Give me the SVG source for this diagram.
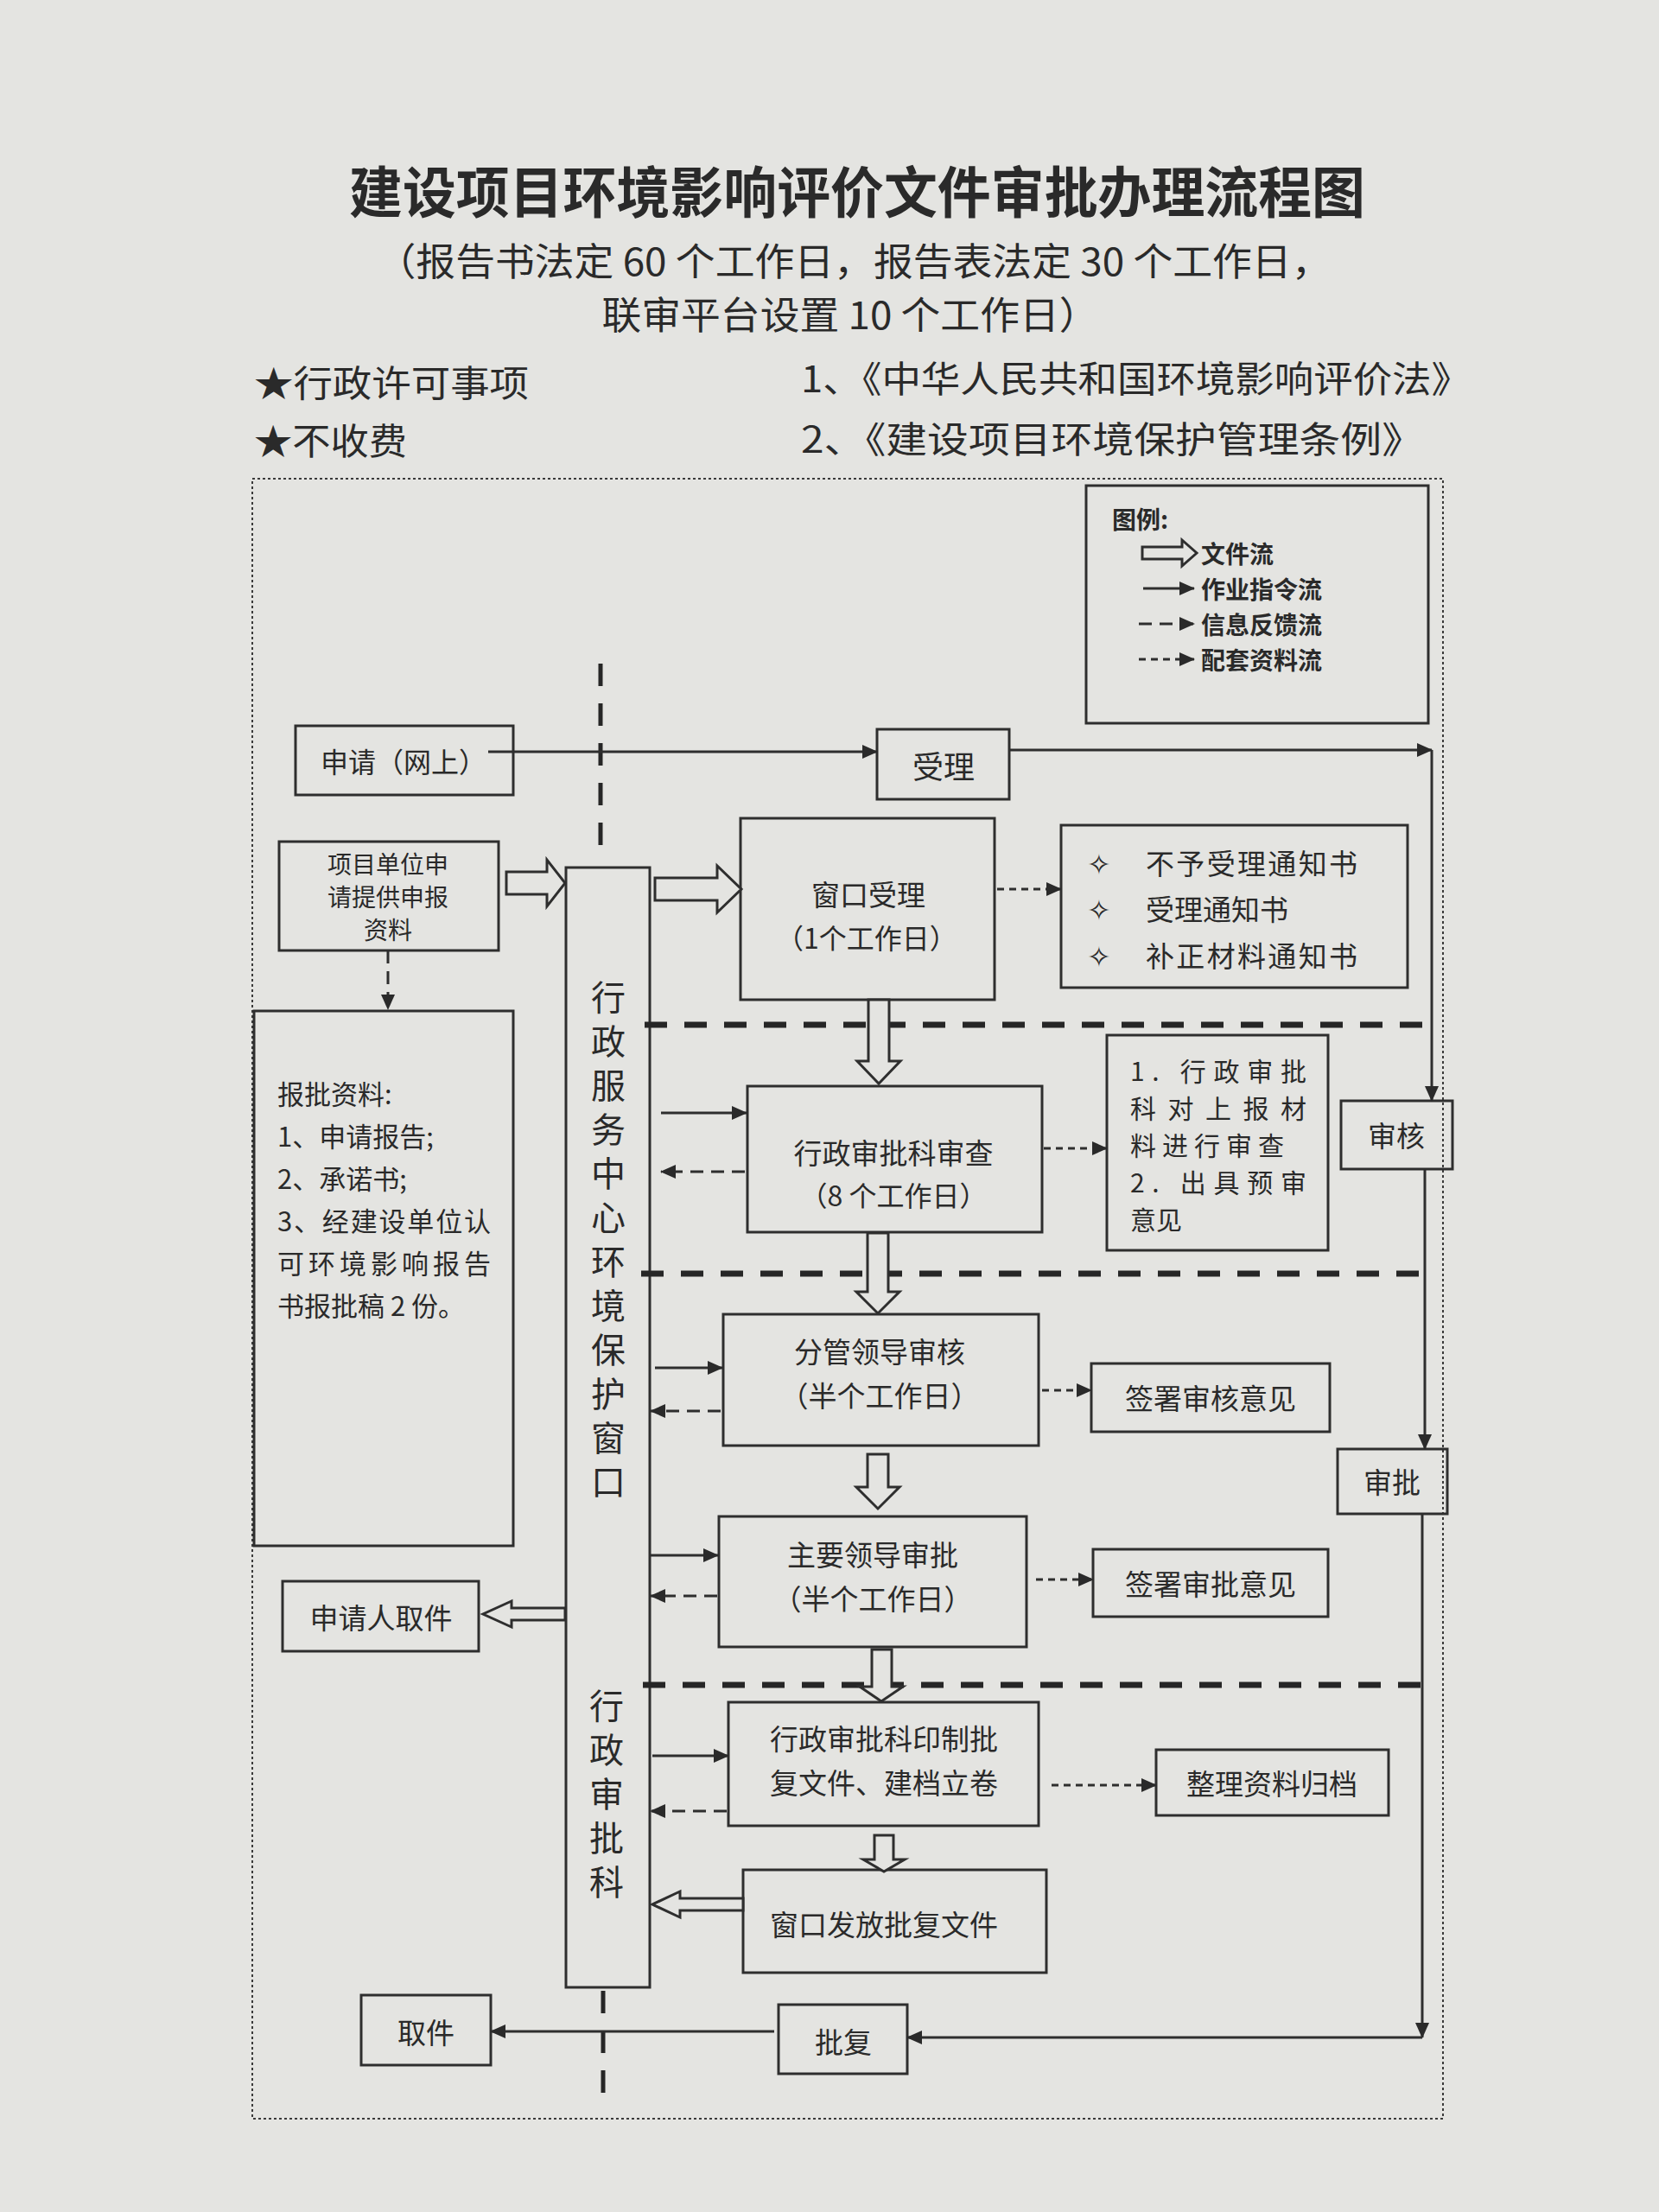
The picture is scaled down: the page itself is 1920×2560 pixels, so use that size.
<svg xmlns="http://www.w3.org/2000/svg" width="1920" height="2560" viewBox="0 0 1920 2560">
<style>
text{font-family:"Noto Sans CJK SC","Noto Sans",sans-serif;fill:#2a2a2a;dominant-baseline:central}
.t{font-size:33px}
.c{text-anchor:middle}
.vt{font-size:40px;writing-mode:vertical-rl;letter-spacing:11px}
.lg{font-size:28px;font-weight:700}
.box{fill:none;stroke:#2e2e2e;stroke-width:3}
.ln{fill:none;stroke:#2e2e2e;stroke-width:3}
.fb{fill:none;stroke:#2e2e2e;stroke-width:3;stroke-dasharray:15 9}
.dt{fill:none;stroke:#2e2e2e;stroke-width:3;stroke-dasharray:8 6}
.sep{fill:none;stroke:#262626;stroke-width:7;stroke-dasharray:26 20}
.vsep{fill:none;stroke:#262626;stroke-width:5;stroke-dasharray:26 20}
.ho{fill:#e4e4e1;stroke:#2e2e2e;stroke-width:3;stroke-linejoin:miter}
.bold{font-weight:700}
</style>
<defs>
<marker id="ah" viewBox="0 0 18 16" refX="17" refY="8" markerWidth="18" markerHeight="16" markerUnits="userSpaceOnUse" orient="auto">
<path d="M0,0 L18,8 L0,16 Z" fill="#2a2a2a"/>
</marker>
</defs>
<rect x="0" y="0" width="1920" height="2560" fill="#e4e4e1"/>

<g id="header">
<text class="c bold" x="992" y="218" font-size="64" textLength="1176" lengthAdjust="spacingAndGlyphs">建设项目环境影响评价文件审批办理流程图</text>
<text class="c" x="988" y="300" font-size="44" textLength="1105" lengthAdjust="spacingAndGlyphs">（报告书法定 60 个工作日，报告表法定 30 个工作日，</text>
<text class="c" x="984" y="362" font-size="44" textLength="575" lengthAdjust="spacingAndGlyphs">联审平台设置 10 个工作日）</text>
<text x="294" y="440" font-size="42" textLength="318" lengthAdjust="spacingAndGlyphs">★行政许可事项</text>
<text x="294" y="507" font-size="42" textLength="177" lengthAdjust="spacingAndGlyphs">★不收费</text>
<text x="927" y="435" font-size="42" textLength="775" lengthAdjust="spacingAndGlyphs">1、《中华人民共和国环境影响评价法》</text>
<text x="927" y="505" font-size="42" textLength="720" lengthAdjust="spacingAndGlyphs">2、《建设项目环境保护管理条例》</text>
</g>

<rect id="frame" x="292" y="554" width="1378" height="1898" fill="none" stroke="#3a3a3a" stroke-width="2" stroke-dasharray="3 3"/>

<g id="legend">
<rect class="box" x="1257" y="562" width="396" height="275"/>
<text class="lg" x="1287" y="600" font-size="30">图例:</text>
<polygon class="ho" points="1322,633 1368,633 1368,625 1385,640 1368,655 1368,647 1322,647"/>
<text class="lg" x="1390" y="640">文件流</text>
<line class="ln" x1="1323" y1="681" x2="1382" y2="681" marker-end="url(#ah)"/>
<text class="lg" x="1390" y="681">作业指令流</text>
<line class="fb" x1="1318" y1="722" x2="1382" y2="722" marker-end="url(#ah)"/>
<text class="lg" x="1390" y="722">信息反馈流</text>
<line class="dt" x1="1318" y1="763" x2="1382" y2="763" marker-end="url(#ah)"/>
<text class="lg" x="1390" y="763">配套资料流</text>
</g>

<g id="n-apply-online">
<rect class="box" x="342" y="840" width="252" height="80"/>
<text x="371" y="880" font-size="32">申请（网上）</text>
</g>
<g id="n-accept">
<rect class="box" x="1015" y="844" width="153" height="81"/>
<text class="c" x="1092" y="885" font-size="36">受理</text>
</g>
<g id="n-unit">
<rect class="box" x="323" y="974" width="254" height="126"/>
<text class="c" x="449" y="999" font-size="28">项目单位申</text>
<text class="c" x="449" y="1037" font-size="28">请提供申报</text>
<text class="c" x="449" y="1075" font-size="28">资料</text>
</g>
<g id="n-column">
<rect class="box" x="655" y="1004" width="97" height="1296"/>
<text class="vt" x="704" y="1134">行政服务中心环境保护窗口</text>
<text class="vt" x="702" y="1954">行政审批科</text>
</g>
<g id="n-window-accept">
<rect class="box" x="857" y="947" width="294" height="210"/>
<text class="t c" x="1005" y="1034">窗口受理</text>
<text class="c" x="1003" y="1084" font-size="32">（1个工作日）</text>
</g>
<g id="n-notices">
<rect class="box" x="1228" y="955" width="401" height="188"/>
<text class="t" x="1258" y="998">✧</text>
<text class="t" x="1326" y="998" textLength="245" lengthAdjust="spacing">不予受理通知书</text>
<text class="t" x="1258" y="1051">✧</text>
<text class="t" x="1326" y="1051">受理通知书</text>
<text class="t" x="1258" y="1105">✧</text>
<text class="t" x="1326" y="1105" textLength="245" lengthAdjust="spacing">补正材料通知书</text>
</g>
<g id="n-materials">
<rect class="box" x="294" y="1170" width="300" height="619"/>
<text x="321" y="1264" font-size="31">报批资料:</text>
<text x="321" y="1313" font-size="31">1、申请报告;</text>
<text x="321" y="1362" font-size="31">2、承诺书;</text>
<text x="321" y="1411" font-size="31" textLength="247" lengthAdjust="spacing">3、经建设单位认</text>
<text x="321" y="1460" font-size="31" textLength="247" lengthAdjust="spacing">可环境影响报告</text>
<text x="321" y="1509" font-size="31">书报批稿 2 份。</text>
</g>
<g id="n-review">
<rect class="box" x="865" y="1257" width="341" height="169"/>
<text class="t c" x="1034" y="1333">行政审批科审查</text>
<text class="c" x="1034" y="1382" font-size="32">（8 个工作日）</text>
</g>
<g id="n-review-note">
<rect class="box" x="1281" y="1198" width="256" height="249"/>
<text x="1308" y="1238" font-size="30" textLength="204" lengthAdjust="spacing">1. 行政审批</text>
<text x="1308" y="1281" font-size="30" textLength="204" lengthAdjust="spacing">科对上报材</text>
<text x="1308" y="1324" font-size="30" textLength="178" lengthAdjust="spacing">料进行审查</text>
<text x="1308" y="1367" font-size="30" textLength="204" lengthAdjust="spacing">2. 出具预审</text>
<text x="1308" y="1410" font-size="30">意见</text>
</g>
<g id="n-audit">
<rect class="box" x="1552" y="1274" width="129" height="79"/>
<text class="t c" x="1616" y="1313">审核</text>
</g>
<g id="n-leader1">
<rect class="box" x="837" y="1521" width="365" height="152"/>
<text class="t c" x="1018" y="1563">分管领导审核</text>
<text class="t c" x="1018" y="1614">（半个工作日）</text>
</g>
<g id="n-sign1">
<rect class="box" x="1263" y="1578" width="276" height="79"/>
<text class="t c" x="1401" y="1617">签署审核意见</text>
</g>
<g id="n-approve">
<rect class="box" x="1548" y="1677" width="127" height="75"/>
<text class="t c" x="1611" y="1714">审批</text>
</g>
<g id="n-leader2">
<rect class="box" x="832" y="1755" width="356" height="151"/>
<text class="t c" x="1010" y="1798">主要领导审批</text>
<text class="t c" x="1010" y="1849">（半个工作日）</text>
</g>
<g id="n-sign2">
<rect class="box" x="1265" y="1793" width="272" height="78"/>
<text class="t c" x="1401" y="1832">签署审批意见</text>
</g>
<g id="n-pickup-applicant">
<rect class="box" x="327" y="1830" width="227" height="81"/>
<text class="t c" x="441" y="1871">申请人取件</text>
</g>
<g id="n-print">
<rect class="box" x="843" y="1970" width="359" height="143"/>
<text class="t c" x="1023" y="2011">行政审批科印制批</text>
<text class="t c" x="1023" y="2062">复文件、建档立卷</text>
</g>
<g id="n-archive">
<rect class="box" x="1338" y="2025" width="269" height="76"/>
<text class="t c" x="1472" y="2063">整理资料归档</text>
</g>
<g id="n-issue">
<rect class="box" x="860" y="2164" width="351" height="119"/>
<text class="t c" x="1023" y="2226">窗口发放批复文件</text>
</g>
<g id="n-reply">
<rect class="box" x="901" y="2320" width="149" height="80"/>
<text class="t c" x="976" y="2362">批复</text>
</g>
<g id="n-pickup">
<rect class="box" x="418" y="2309" width="150" height="81"/>
<text class="t c" x="493" y="2351">取件</text>
</g>

<g id="separators">
<line class="vsep" x1="695" y1="768" x2="695" y2="990"/>
<line class="vsep" x1="698" y1="2304" x2="698" y2="2430"/>
<line class="sep" x1="746" y1="1186" x2="1666" y2="1186"/>
<line class="sep" x1="742" y1="1474" x2="1661" y2="1474"/>
<line class="sep" x1="744" y1="1950" x2="1652" y2="1950"/>
</g>

<g id="connectors">
<line class="ln" x1="565" y1="870" x2="1015" y2="870" marker-end="url(#ah)"/>
<line class="ln" x1="1168" y1="868" x2="1657" y2="868" marker-end="url(#ah)"/>
<line class="ln" x1="1657" y1="868" x2="1657" y2="1274" marker-end="url(#ah)"/>
<line class="ln" x1="1649" y1="1353" x2="1649" y2="1677" marker-end="url(#ah)"/>
<line class="ln" x1="1646" y1="1752" x2="1646" y2="2358" marker-end="url(#ah)"/>
<line class="ln" x1="1646" y1="2358" x2="1050" y2="2358" marker-end="url(#ah)"/>
<line class="ln" x1="896" y1="2351" x2="568" y2="2351" marker-end="url(#ah)"/>
<line class="fb" x1="449" y1="1100" x2="449" y2="1168" stroke-dasharray="10 7" marker-end="url(#ah)"/>

<line class="ln" x1="765" y1="1288" x2="864" y2="1288" marker-end="url(#ah)"/>
<line class="fb" x1="862" y1="1356" x2="765" y2="1356" marker-end="url(#ah)"/>
<line class="ln" x1="758" y1="1583" x2="836" y2="1583" marker-end="url(#ah)"/>
<line class="fb" x1="834" y1="1633" x2="753" y2="1633" marker-end="url(#ah)"/>
<line class="ln" x1="753" y1="1800" x2="831" y2="1800" marker-end="url(#ah)"/>
<line class="fb" x1="830" y1="1847" x2="753" y2="1847" marker-end="url(#ah)"/>
<line class="ln" x1="755" y1="2032" x2="843" y2="2032" marker-end="url(#ah)"/>
<line class="fb" x1="841" y1="2096" x2="753" y2="2096" marker-end="url(#ah)"/>

<line class="dt" x1="1154" y1="1029" x2="1228" y2="1029" marker-end="url(#ah)"/>
<line class="dt" x1="1208" y1="1329" x2="1281" y2="1329" marker-end="url(#ah)"/>
<line class="dt" x1="1206" y1="1609" x2="1263" y2="1609" marker-end="url(#ah)"/>
<line class="dt" x1="1199" y1="1828" x2="1265" y2="1828" marker-end="url(#ah)"/>
<line class="dt" x1="1217" y1="2066" x2="1338" y2="2066" marker-end="url(#ah)"/>

<polygon class="ho" points="586,1009 633,1009 633,995 654,1022 633,1049 633,1035 586,1035"/>
<polygon class="ho" points="758,1016 830,1016 830,1002 858,1029 830,1056 830,1042 758,1042"/>
<polygon class="ho" points="1005,1157 1029,1157 1029,1228 1042,1228 1017,1254 992,1228 1005,1228"/>
<polygon class="ho" points="1004,1427 1028,1427 1028,1495 1041,1495 1016,1520 991,1495 1004,1495"/>
<polygon class="ho" points="1004,1683 1028,1683 1028,1721 1041,1721 1016,1746 991,1721 1004,1721"/>
<polygon class="ho" points="1009,1909 1032,1909 1032,1952 1045,1952 1020,1969 995,1952 1009,1952"/>
<polygon class="ho" points="1012,2124 1034,2124 1034,2152 1047,2152 1023,2166 999,2152 1012,2152"/>
<polygon class="ho" points="654,1861 592,1861 592,1853 559,1868 592,1883 592,1875 654,1875"/>
<polygon class="ho" points="860,2197 787,2197 787,2189 755,2204 787,2219 787,2211 860,2211"/>
</g>
</svg>
